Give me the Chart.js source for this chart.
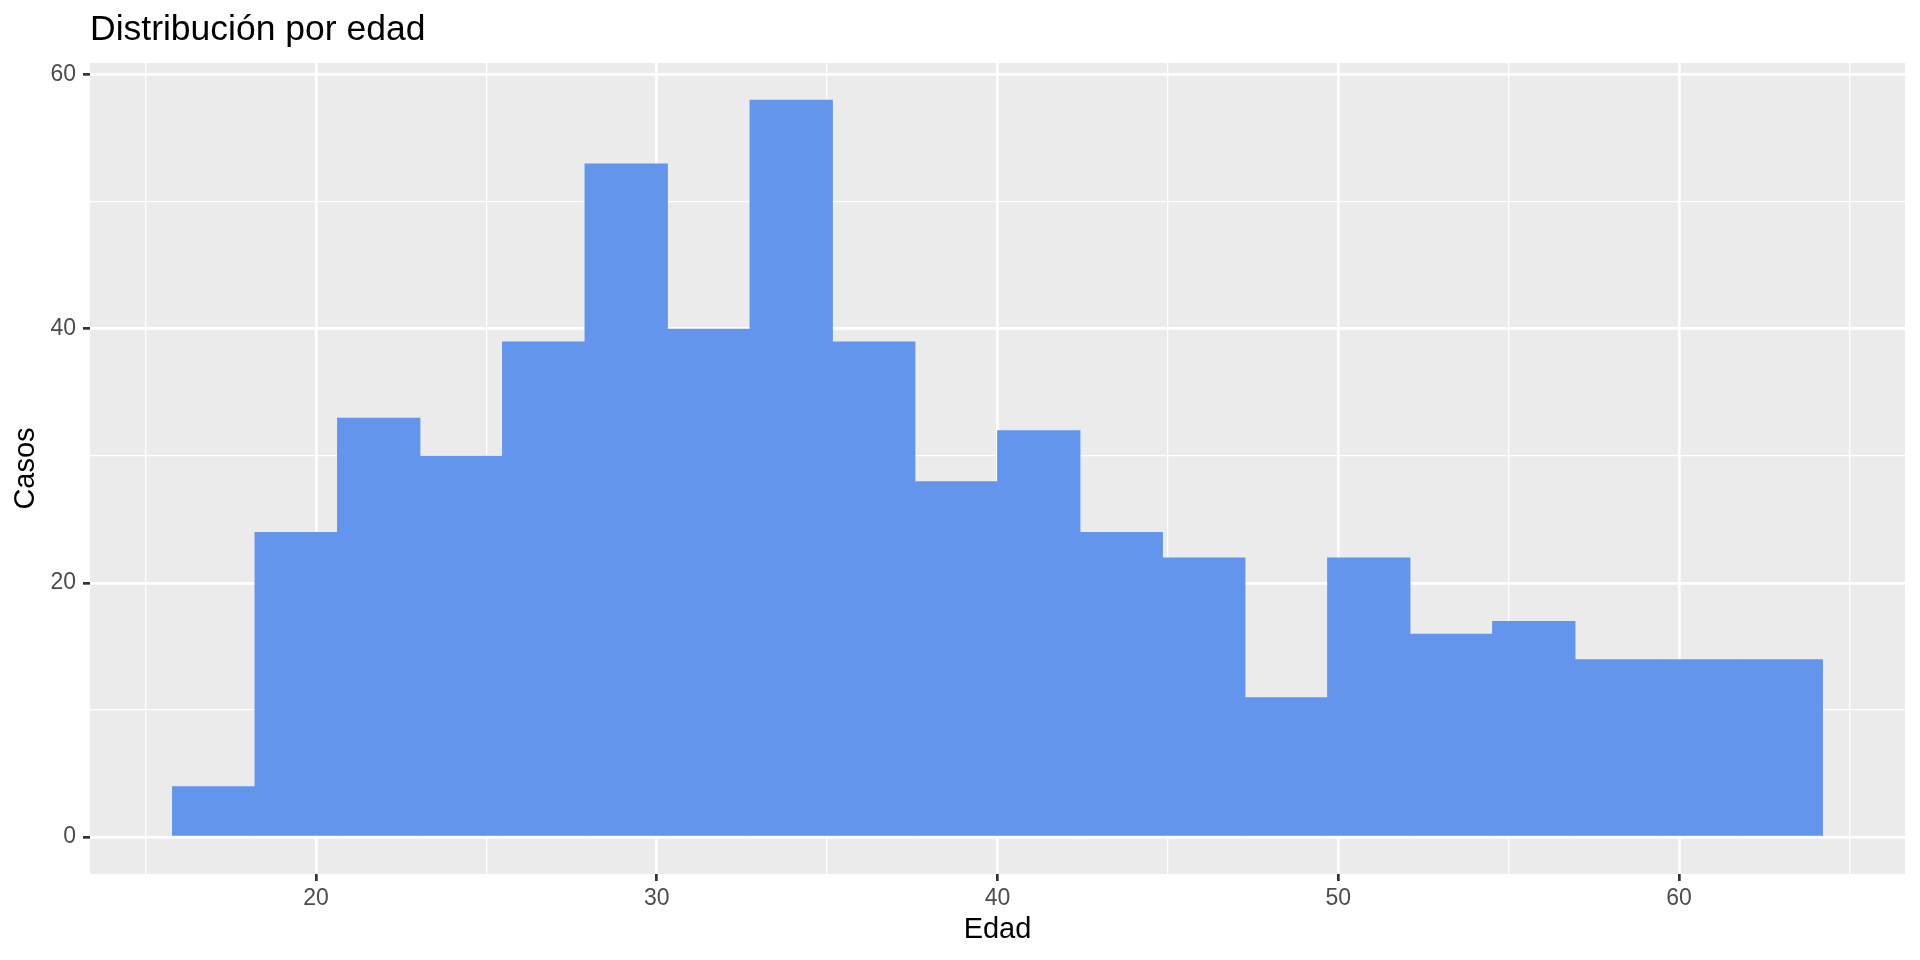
<!DOCTYPE html>
<html>
<head>
<meta charset="utf-8">
<title>Distribución por edad</title>
<script src="https://cdn.jsdelivr.net/npm/chart.js@4/dist/chart.umd.min.js"></script>
<style>
  html, body { margin: 0; padding: 0; background: #ffffff; }
  #wrap { width: 1920px; height: 960px; position: relative; }
</style>
</head>
<body>
<div id="wrap"><canvas id="histChart"></canvas></div>
<script>
// Histogram of ages, 20 bins (centres)
const binCenters = [17.000, 19.421, 21.842, 24.263, 26.684, 29.105, 31.526, 33.947, 36.368, 38.789,
                    41.211, 43.632, 46.053, 48.474, 50.895, 53.316, 55.737, 58.158, 60.579, 63.000];
const caseCounts = [4, 24, 33, 30, 39, 53, 40, 58, 39, 28, 32, 24, 22, 11, 22, 16, 17, 14, 14, 14];
const xMajorTicks = [20, 30, 40, 50, 60];
const yMajorTicks = [0, 20, 40, 60];

const TITLE = 'Distribución por edad';
const X_TITLE = 'Edad';
const Y_TITLE = 'Casos';
const FONT = '"Liberation Sans", Arial, sans-serif';

// ggplot-like panel background + titles
const ggTheme = {
    id: 'ggTheme',
    beforeDraw(chart) {
        const { ctx, chartArea: a } = chart;
        ctx.save();
        ctx.fillStyle = '#EBEBEB';
        ctx.fillRect(a.left, a.top, a.right - a.left, a.bottom - a.top);
        ctx.restore();
    },
    afterDraw(chart) {
        const { ctx, chartArea: a } = chart;
        ctx.save();
        ctx.fillStyle = '#000000';

        // main title
        ctx.font = `35.5px ${FONT}`;
        ctx.textAlign = 'left';
        ctx.textBaseline = 'alphabetic';
        ctx.fillText(TITLE, a.left, 40);

        // x title
        ctx.font = `29px ${FONT}`;
        ctx.textAlign = 'center';
        ctx.fillText(X_TITLE, (a.left + a.right) / 2, 938);

        // y title
        ctx.translate(26, (a.top + a.bottom) / 2);
        ctx.rotate(-Math.PI / 2);
        ctx.textBaseline = 'middle';
        ctx.fillText(Y_TITLE, 0, 0);
        ctx.restore();
    }
};

const isMajorX = v => xMajorTicks.includes(v);
const isMajorY = v => yMajorTicks.includes(v);

const ctx = document.getElementById('histChart');
new Chart(ctx, {
    type: 'bar',
    data: {
        datasets: [{
            label: Y_TITLE,
            data: binCenters.map((x, i) => ({ x, y: caseCounts[i] })),
            backgroundColor: '#6495ED',
            borderWidth: 0,
            barPercentage: 1.01,
            categoryPercentage: 1
        }]
    },
    options: {
        responsive: true,
        maintainAspectRatio: false,
        animation: false,
        layout: { padding: { top: 63, right: 15, left: 0, bottom: 0 } },
        plugins: {
            legend: { display: false },
            tooltip: { enabled: false }
        },
        scales: {
            x: {
                type: 'linear',
                min: 13.37,
                max: 66.63,
                offset: false,
                afterFit: s => { s.height = 86; },
                border: { display: false },
                grid: {
                    offset: false,
                    color: '#FFFFFF',
                    lineWidth: c => isMajorX(c.tick.value) ? 2.7 : 1.35,
                    tickColor: c => isMajorX(c.tick.value) ? '#333333' : 'rgba(0,0,0,0)',
                    tickWidth: 2.7,
                    tickLength: 7
                },
                ticks: {
                    stepSize: 5,
                    includeBounds: false,
                    maxTicksLimit: 20,
                    maxRotation: 0,
                    autoSkip: false,
                    padding: 4,
                    color: '#4D4D4D',
                    font: { family: FONT, size: 23 },
                    callback: v => isMajorX(v) ? String(v) : ''
                }
            },
            y: {
                min: -2.9,
                max: 60.9,
                afterFit: s => { s.width = 90; },
                border: { display: false },
                grid: {
                    color: '#FFFFFF',
                    lineWidth: c => isMajorY(c.tick.value) ? 2.7 : 1.35,
                    tickColor: c => isMajorY(c.tick.value) ? '#333333' : 'rgba(0,0,0,0)',
                    tickWidth: 2.7,
                    tickLength: 7
                },
                ticks: {
                    stepSize: 10,
                    includeBounds: false,
                    autoSkip: false,
                    padding: 7,
                    color: '#4D4D4D',
                    font: { family: FONT, size: 23 },
                    callback: v => isMajorY(v) ? String(v) : ''
                }
            }
        }
    },
    plugins: [ggTheme]
});
</script>
</body>
</html>
